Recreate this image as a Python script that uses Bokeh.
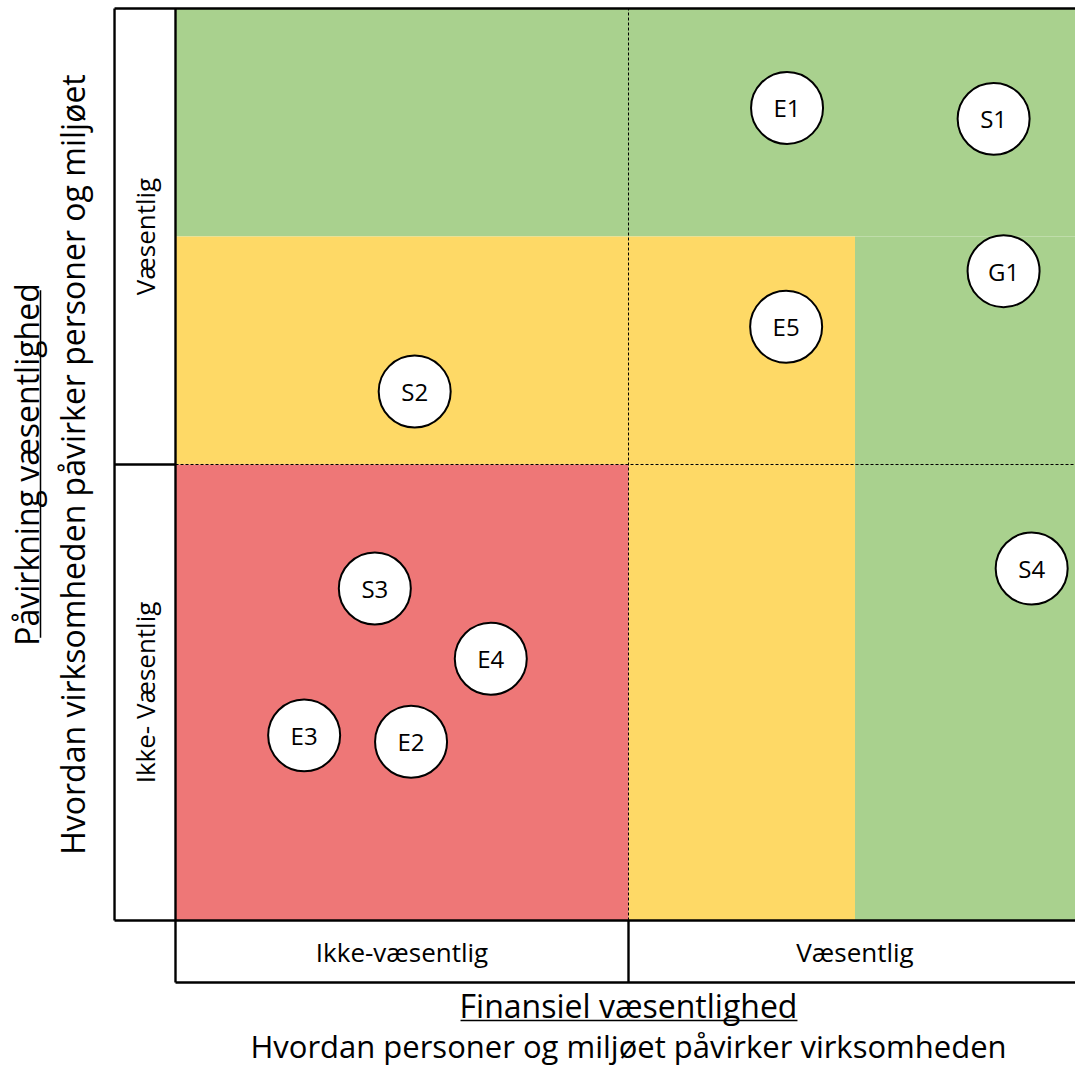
import numpy as np
from bokeh.plotting import figure
from bokeh.models import Range1d, ColumnDataSource
from bokeh.core.properties import value
from bokeh.embed import file_html
from bokeh.resources import INLINE

FONT = "Open Sans"

# ---- data ----
topics = ["E1", "S1", "G1", "E5", "S2", "S3", "E4", "S4", "E3", "E2"]
financial = [0.675, 0.903, 0.914, 0.674, 0.264, 0.220, 0.348, 0.945, 0.142, 0.260]
impact = [0.891, 0.879, 0.712, 0.651, 0.580, 0.364, 0.287, 0.386, 0.203, 0.196]

zone_left = [0.0, 0.75, 0.0, 0.5, 0.0]
zone_right = [1.0, 1.0, 0.75, 0.75, 0.5]
zone_bottom = [0.75, 0.0, 0.5, 0.0, 0.0]
zone_top = [1.0, 0.75, 0.75, 0.5, 0.5]
zone_color = ["#A9D18E", "#A9D18E", "#FED966", "#FED966", "#EE7777"]

y_levels = ["Væsentlig", "Ikke- Væsentlig"]
x_levels = ["Ikke-væsentlig", "Væsentlig"]

x_title = "Finansiel væsentlighed"
x_sub = "Hvordan personer og miljøet påvirker virksomheden"
y_title = "Påvirkning væsentlighed"
y_sub = "Hvordan virksomheden påvirker personer og miljøet"

W, H = 1075, 1068
p = figure(width=W, height=H, output_backend="svg", toolbar_location=None,
           x_range=Range1d(-175 / 906, 900 / 906), y_range=Range1d(-148 / 912, 920 / 912),
           x_axis_location=None, y_axis_location=None, min_border=0)
p.outline_line_color = None
p.grid.visible = False
p.background_fill_color = "white"

# zones
p.quad(left=zone_left, right=zone_right, bottom=zone_bottom, top=zone_top,
       fill_color=zone_color, line_color=None)

# dashed midlines
p.segment(x0=[0.5, 0.0], y0=[0.0, 0.5], x1=[0.5, 1.0], y1=[1.0, 0.5],
          line_color="black", line_width=1, line_dash="3 2")

cw = 0.0673
rh = 0.068
# solid frame lines
sx0 = [-cw, -cw, 0.0, -cw, 0.0, 0.5, -cw]
sy0 = [1.0, 0.0, -rh, 0.0, -rh, -rh, 0.5]
sx1 = [1.0, -cw, 0.0, 1.0, 1.0, 0.5, 0.0]
sy1 = [1.0, 1.0, 1.0, 0.0, -rh, 0.0, 0.5]
p.segment(x0=sx0, y0=sy0, x1=sx1, y1=sy1, line_color="black", line_width=2.4)

# side labels
p.text(x=[-cw / 2, -cw / 2], y=[0.75, 0.25], text=y_levels, angle=np.pi / 2,
       text_align="center", text_baseline="middle", text_font=value(FONT),
       text_font_size="26px", text_color="black")
p.text(x=[0.25, 0.75], y=[-rh / 2, -rh / 2], text=x_levels,
       text_align="center", text_baseline="middle", text_font=value(FONT),
       text_font_size="26px", text_color="black")

# topic circles
src = ColumnDataSource(dict(x=financial, y=impact, t=topics))
p.scatter("x", "y", source=src, marker="circle", size=72, fill_color="white",
          line_color="black", line_width=2)
p.text("x", "y", text="t", source=src, text_align="center", text_baseline="middle",
       text_font=value(FONT), text_font_size="24px", text_color="black")

# axis titles
p.text(x=[0.5], y=[-0.0932], text=[x_title], text_align="center", text_baseline="middle",
       text_font=value(FONT), text_font_size="32px", text_color="black")
p.text(x=[0.5], y=[-0.1375], text=[x_sub], text_align="center", text_baseline="middle",
       text_font=value(FONT), text_font_size="31px", text_color="black")
p.segment(x0=[0.3146], y0=[-0.1096], x1=[0.6865], y1=[-0.1096], line_color="black", line_width=1.5)

p.text(x=[-0.1645], y=[0.5], text=[y_title], angle=np.pi / 2, text_align="center",
       text_baseline="middle", text_font=value(FONT), text_font_size="32px", text_color="black")
p.text(x=[-0.1137], y=[0.5], text=[y_sub], angle=np.pi / 2, text_align="center",
       text_baseline="middle", text_font=value(FONT), text_font_size="32px", text_color="black")
p.segment(x0=[-0.149], y0=[0.310], x1=[-0.149], y1=[0.691], line_color="black", line_width=1.5)

open("out.html", "w").write(file_html(p, INLINE))
